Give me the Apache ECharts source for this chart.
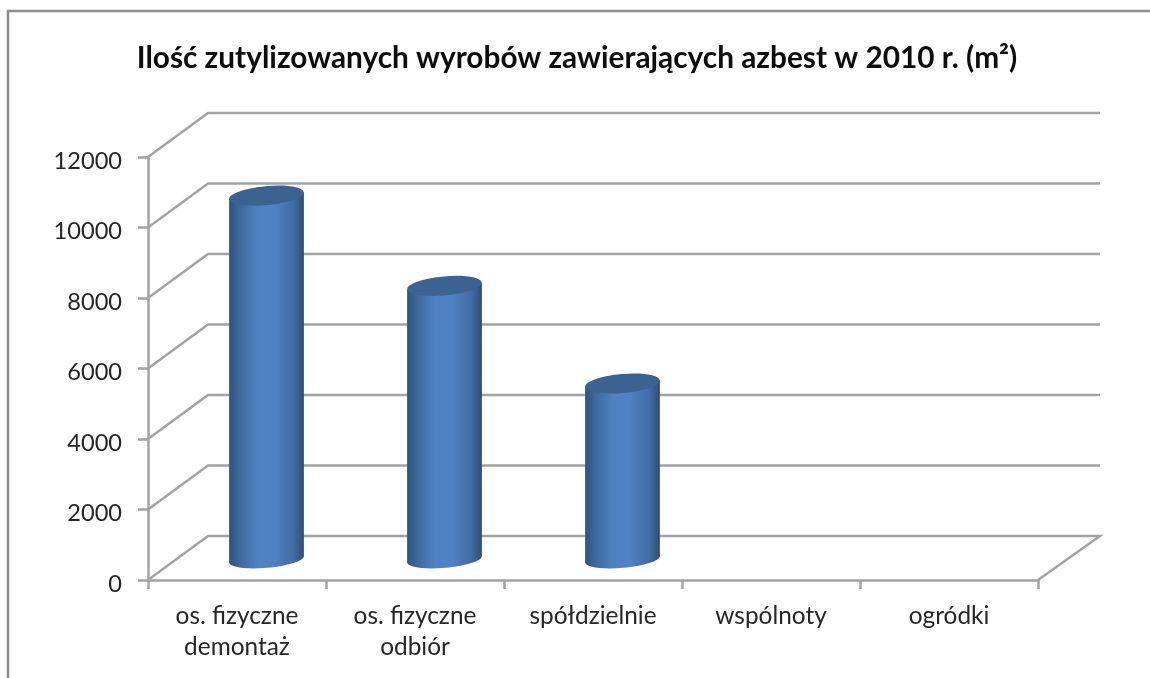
<!DOCTYPE html>
<html>
<head>
<meta charset="utf-8">
<title>Azbest 2010</title>
<script src="https://cdn.jsdelivr.net/npm/echarts@6/dist/echarts.min.js"></script>
<style>
  html, body { margin: 0; padding: 0; background: #fff; }
  #chart { width: 1150px; height: 678px; }
</style>
</head>
<body>
<div id="chart"></div>
<script>
const titleText = 'Ilość zutylizowanych wyrobów zawierających azbest w 2010 r. (m²)';
const categories = ['os. fizyczne\ndemontaż', 'os. fizyczne\nodbiór', 'spółdzielnie', 'wspólnoty', 'ogródki'];
const values = [10280, 7720, 4950, 0, 0];
const yTicks = [0, 2000, 4000, 6000, 8000, 10000, 12000];

const FONT = 'Lato';
const LINE = '#a3a3a3';
// przesuniecie tylnej sciany (pseudo 3D)
const DEPTH_X = 60;
const DEPTH_Y = -44;
const TILT = 0.09;

function renderWall(params, api) {
  const v = api.value(1);
  const band = api.size([1, 0])[0];
  const p0 = api.coord([0, v]);
  const p1 = api.coord([categories.length - 1, v]);
  const left = p0[0] - band / 2;
  const right = p1[0] + band / 2;
  const style = { fill: null, stroke: LINE, lineWidth: 2.5 };
  const points = [[left, p0[1]], [left + DEPTH_X, p0[1] + DEPTH_Y], [right + DEPTH_X + 2, p0[1] + DEPTH_Y]];
  // podloga ma tez prawa krawedz
  if (v === 0) points.push([right, p0[1]]);
  return { type: 'polyline', shape: { points: points }, style: style, silent: true };
}

function renderCylinder(params, api) {
  const v = api.value(1);
  if (!v) return null;
  const top = api.coord([api.value(0), v]);
  const base = api.coord([api.value(0), 0]);
  const width = api.size([1, 0])[0] * 0.42;
  const rx = width / 2;
  const cx = top[0] + DEPTH_X / 2 - 0.5;
  const topY = top[1] + DEPTH_Y / 2;
  const baseY = base[1] + DEPTH_Y / 2 + 1.5;
  const lift = rx * Math.sin(TILT);
  const body = {
    type: 'linear', x: 0, y: 0, x2: 1, y2: 0,
    colorStops: [
      { offset: 0, color: '#2f5279' },
      { offset: 0.12, color: '#3c6698' },
      { offset: 0.38, color: '#4f82c2' },
      { offset: 0.6, color: '#4f82c2' },
      { offset: 0.86, color: '#3f6ca3' },
      { offset: 1, color: '#2d4e74' }
    ]
  };
  return {
    type: 'group',
    silent: true,
    children: [
      {
        type: 'ellipse',
        shape: { cx: cx, cy: baseY, rx: rx, ry: 8.3 },
        originX: cx, originY: baseY, rotation: TILT,
        style: { fill: body }
      },
      {
        type: 'polygon',
        shape: { points: [[cx - rx, topY + lift], [cx + rx, topY - lift], [cx + rx, baseY - lift], [cx - rx, baseY + lift]] },
        style: { fill: body }
      },
      {
        type: 'ellipse',
        shape: { cx: cx, cy: topY, rx: rx, ry: 9.5 },
        originX: cx, originY: topY, rotation: TILT,
        style: { fill: '#3b6391' }
      }
    ]
  };
}

const chart = echarts.init(document.getElementById('chart'));

chart.setOption({
  backgroundColor: '#fff',
  animation: false,
  title: {
    text: titleText,
    left: 572,
    top: 38,
    textAlign: 'center',
    textStyle: { fontFamily: FONT, fontWeight: 'bold', fontSize: 29.8, color: '#0d0d0d' }
  },
  graphic: [{
    type: 'polyline',
    silent: true,
    shape: { points: [[8, 678], [8, 11], [1150, 11]] },
    style: { fill: null, stroke: '#8c8c8c', lineWidth: 2.5 }
  }],
  grid: { left: 148, right: 112, top: 157, bottom: 98 },
  xAxis: {
    type: 'category',
    data: categories,
    boundaryGap: true,
    axisLine: { lineStyle: { color: LINE, width: 2.5 } },
    axisTick: { show: true, alignWithLabel: false, length: 9, lineStyle: { color: LINE, width: 2.5 } },
    axisLabel: { fontFamily: FONT, fontSize: 24.4, color: '#262626', margin: 21, lineHeight: 31, interval: 0 }
  },
  yAxis: {
    type: 'value',
    min: 0,
    max: 12000,
    interval: 2000,
    axisLine: { show: true, lineStyle: { color: LINE, width: 2.5 } },
    axisTick: { show: true, length: 10, lineStyle: { color: LINE, width: 2.5 } },
    axisLabel: {
      fontFamily: FONT, fontSize: 23.6, color: '#262626', margin: 26,
      verticalAlign: 'top', lineHeight: 8,
      formatter: v => String(v)
    },
    splitLine: { show: false }
  },
  series: [
    {
      type: 'custom',
      z: 1,
      renderItem: renderWall,
      encode: { x: 0, y: 1 },
      data: yTicks.map(t => [0, t])
    },
    {
      type: 'custom',
      z: 3,
      renderItem: renderCylinder,
      encode: { x: 0, y: 1 },
      data: values.map((v, i) => [i, v])
    }
  ]
});
</script>
</body>
</html>
